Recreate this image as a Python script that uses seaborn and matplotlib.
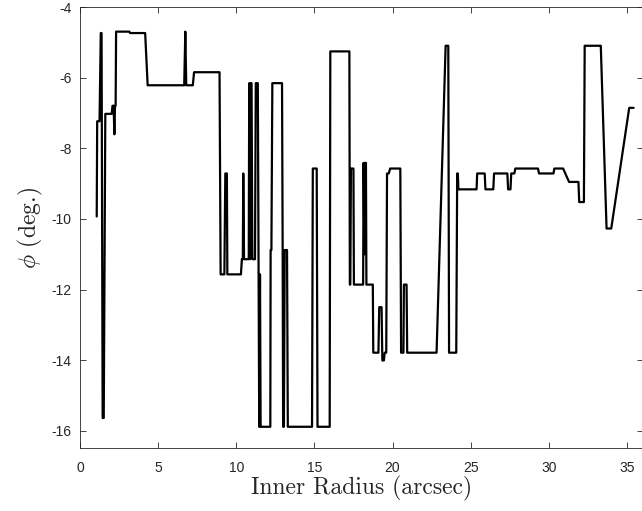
import numpy as np
import pandas as pd
import seaborn as sns
import matplotlib.pyplot as plt

# traced vertices of the curve (inner radius in arcsec, phi in degrees)
radius = [1.07, 1.10, 1.25, 1.33, 1.38, 1.45, 1.52, 1.62, 2.03, 2.08, 2.15, 2.20, 2.24, 2.28,
          2.31, 3.16, 3.20, 4.17, 4.33, 6.67, 6.74, 6.80, 7.22, 7.30, 8.93,
          9.00, 9.24, 9.30, 9.40, 9.43, 10.30, 10.36, 10.42, 10.45, 10.50,
          10.80, 10.83, 10.88, 10.93, 10.98, 11.03, 11.20, 11.25, 11.38, 11.43, 11.47, 11.52, 11.56, 11.65,
          12.18, 12.20, 12.25, 12.31, 12.93, 12.97, 13.00, 13.05, 13.10, 13.25, 13.30,
          14.85, 14.90, 15.15, 15.20, 15.98, 16.02, 17.24, 17.27, 17.30, 17.34,
          17.50, 17.53, 18.12, 18.15, 18.20, 18.24, 18.30, 18.33, 18.74, 18.77,
          19.10, 19.15, 19.30, 19.35, 19.45, 19.50, 19.60, 19.65, 19.76, 19.85,
          20.50, 20.55, 20.70, 20.73, 20.90, 20.94, 22.82, 23.40, 23.57, 23.62,
          24.08, 24.14, 24.18, 24.22, 25.38, 25.42, 25.90, 25.95, 26.45, 26.50,
          27.35, 27.40, 27.55, 27.60, 27.80, 27.86, 29.31, 29.38, 30.30, 30.36,
          30.92, 31.30, 31.90, 31.95, 32.25, 32.30, 33.33, 33.70, 34.00, 35.15, 35.43]
phi = [-9.93, -7.23, -7.23, -4.73, -4.73, -15.64, -15.64, -7.02, -7.02, -6.79, -6.79, -7.60, -6.79, -6.79,
       -4.69, -4.69, -4.73, -4.73, -6.21, -6.21, -4.69, -6.21, -6.21, -5.84, -5.84,
       -11.57, -11.57, -8.71, -8.71, -11.57, -11.57, -11.14, -11.14, -8.71, -11.14,
       -11.14, -6.15, -11.14, -6.15, -6.15, -11.14, -11.14, -6.15, -6.15, -11.57, -15.89, -11.57, -15.89, -15.89,
       -15.89, -10.88, -10.88, -6.15, -6.15, -10.88, -15.89, -15.89, -10.88, -10.88, -15.89,
       -15.89, -8.57, -8.57, -15.89, -15.89, -5.25, -5.25, -11.86, -11.86, -8.57,
       -8.57, -11.86, -11.86, -8.41, -11.00, -8.41, -8.41, -11.86, -11.86, -13.79,
       -13.79, -12.50, -12.50, -14.01, -14.01, -13.79, -13.79, -8.71, -8.71, -8.57,
       -8.57, -13.79, -13.79, -11.86, -11.86, -13.79, -13.79, -5.09, -5.09, -13.79,
       -13.79, -8.71, -8.71, -9.16, -9.16, -8.71, -8.71, -9.16, -9.16, -8.71,
       -8.71, -9.16, -9.16, -8.71, -8.71, -8.57, -8.57, -8.71, -8.71, -8.57,
       -8.57, -8.95, -8.95, -9.52, -9.52, -5.09, -5.09, -10.27, -10.27, -6.85, -6.85]

xticks = [0, 5, 10, 15, 20, 25, 30, 35]
yticks = [-16, -14, -12, -10, -8, -6, -4]

df = pd.DataFrame({"radius": radius, "phi": phi})

sns.set_style("ticks")
plt.rcParams["font.family"] = ["Liberation Sans", "DejaVu Sans"]
plt.rcParams["mathtext.fontset"] = "cm"
plt.rcParams["axes.unicode_minus"] = False

fig = plt.figure(figsize=(6.42, 5.11), dpi=100)
ax = fig.add_axes([80 / 642, 1 - 448.3 / 511, 562.5 / 642, (448.3 - 7.3) / 511])

sns.lineplot(data=df, x="radius", y="phi", sort=False, estimator=None,
             color="black", linewidth=1.6, ax=ax)

ax.set_xlim(0, 36)
ax.set_ylim(-16.5, -4)
ax.set_xticks(xticks)
ax.set_yticks(yticks)
ax.tick_params(direction="in", length=4.3, width=0.6, color="#262626",
               labelsize=10, top=True, right=True, labelcolor="#262626")
ax.tick_params(axis="x", pad=9)
ax.tick_params(axis="y", pad=6)
for s in ax.spines.values():
    s.set_visible(True)
    s.set_linewidth(0.6)
    s.set_color("#262626")

ax.set_xlabel("Inner Radius (arcsec)", fontsize=17, family="cmr10", labelpad=1, color="#262626")
ax.set_ylabel(r"$\phi$ (deg.)", fontsize=17, family="cmr10", labelpad=5, color="#262626")

fig.savefig("out.png", dpi=100)
